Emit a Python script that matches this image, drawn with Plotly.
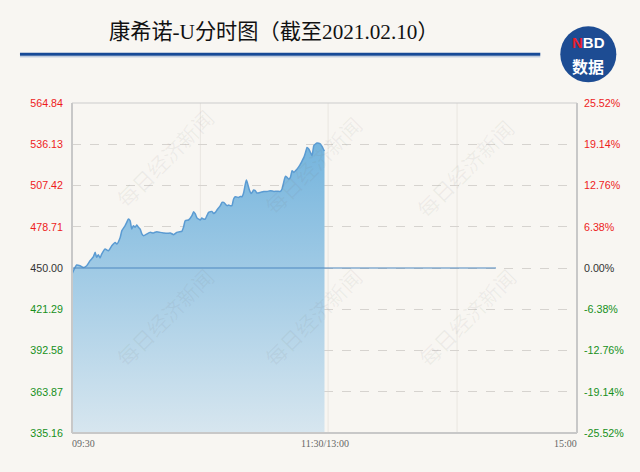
import plotly.graph_objects as go

# ---------------- data ----------------
MINUTES = [0, 2.2, 3.8, 5.4, 7.0, 8.6, 10.2, 11.0, 11.7, 12.5,
           13.3, 14.1, 15.7, 17.3, 18.9, 20.5, 21.3, 22.9, 23.7, 25.2,
           26.0, 26.8, 27.6, 28.4, 29.2, 30.0, 30.8, 31.6, 32.4, 33.2,
           34.0, 35.6, 37.1, 38.7, 40.3, 41.9, 43.5, 45.1, 46.7, 48.3,
           49.8, 51.4, 52.2, 53.0, 53.8, 55.4, 57.0, 57.8, 58.6, 59.4,
           61.0, 61.7, 62.5, 63.3, 64.1, 64.9, 66.5, 67.3, 68.1, 68.9,
           70.5, 71.3, 72.1, 73.7, 74.4, 75.2, 76.0, 76.8, 77.6, 79.2,
           80.0, 80.8, 81.6, 82.4, 82.9, 83.5, 84.3, 85.1, 85.6, 86.3,
           87.1, 87.9, 89.5, 91.1, 92.7, 94.3, 95.9, 97.5, 99.0, 99.8,
           100.6, 101.4, 102.2, 103.0, 103.8, 104.6, 105.4, 106.2, 107.0, 107.8,
           108.6, 109.4, 110.2, 111.0, 111.7, 112.5, 113.3, 114.1, 114.9, 115.7,
           116.5, 117.3, 118.1, 118.9, 119.7, 120]
PRICES = [445.8, 452.1, 451.6, 450.4, 451.6, 455.1, 457.9, 460.9, 457.4, 459.3,
          457.0, 459.7, 463.2, 462.0, 465.5, 467.8, 466.7, 471.3, 476.0, 479.4,
          481.7, 484.1, 482.9, 477.1, 479.4, 478.3, 479.9, 478.3, 477.1, 473.7,
          472.5, 473.7, 474.8, 474.4, 475.3, 474.8, 474.4, 474.1, 474.4, 473.2,
          474.8, 475.3, 475.5, 478.3, 482.9, 483.4, 486.4, 489.2, 487.6, 484.8,
          483.4, 484.8, 484.1, 484.1, 486.4, 488.7, 489.4, 488.0, 488.7, 490.4,
          493.4, 495.7, 495.7, 493.4, 493.8, 493.4, 493.4, 498.0, 499.6, 499.1,
          499.8, 499.6, 502.6, 508.5, 511.2, 508.5, 504.3, 501.9, 502.6, 504.3,
          503.8, 502.2, 502.6, 503.3, 503.3, 503.8, 503.3, 503.5, 503.3, 505.0,
          509.6, 513.8, 513.1, 511.9, 513.1, 517.7, 516.5, 517.7, 518.9, 520.5,
          522.4, 524.7, 527.0, 530.5, 533.9, 532.8, 530.5, 528.2, 535.1, 536.3,
          537.0, 536.8, 536.3, 534.4, 532.1, 531.5]

PREV_CLOSE = 450.00
REF_LINE_END = 201.5          # minute where the prev-close line stops
PRICE_TICKS = [564.84, 536.13, 507.42, 478.71, 450.00, 421.29, 392.58, 363.87, 335.16]
PCT_TICKS = [25.52, 19.14, 12.76, 6.38, 0.00, -6.38, -12.76, -19.14, -25.52]
X_TICK_MIN = [0, 120, 240]
X_TICK_LABELS = ["09:30", "11:30/13:00", "15:00"]
TITLE = "康希诺-U分时图（截至2021.02.10）"
WATERMARK = "每日经济新闻"

# ---------------- layout helpers ----------------
W, H = 640, 472
L, R, T, B = 72, 63.3, 102.7, 39.3
PW, PH = W - L - R, H - T - B
BG = "#f8f6f2"
RED, GREEN, DARK = "#ee1c1c", "#16901a", "#333333"


def px(x):
    return (x - L) / PW


def py(y):
    return (H - B - y) / PH


def col(v, ref):
    return RED if v > ref + 1e-9 else (GREEN if v < ref - 1e-9 else DARK)


ymin, ymax = min(PRICE_TICKS), max(PRICE_TICKS)
left_text = [f"<span style='color:{col(v, PREV_CLOSE)}'>{v:.2f}</span>" for v in PRICE_TICKS]
right_text = [f"<span style='color:{col(v, 0)}'>{v:.2f}%</span>" for v in PCT_TICKS]

fig = go.Figure()

# invisible baseline for the gradient fill
fig.add_trace(go.Scatter(x=[MINUTES[0], MINUTES[-1]], y=[ymin, ymin], mode="lines",
                         line=dict(width=0), hoverinfo="skip", showlegend=False))
fig.add_trace(go.Scatter(
    x=MINUTES, y=PRICES, mode="lines", fill="tonexty",
    line=dict(color="#5b9bd2", width=1.5, shape="spline", smoothing=0.5),
    fillgradient=dict(type="vertical", start=ymin, stop=max(PRICES),
                      colorscale=[[0, "#d7e6ef"], [1, "#74b4dd"]]),
    showlegend=False, hoverinfo="skip"))
# previous close line
fig.add_trace(go.Scatter(x=[0, REF_LINE_END], y=[PREV_CLOSE, PREV_CLOSE], mode="lines",
                         line=dict(color="#4d87bf", width=1), showlegend=False, hoverinfo="skip"))
# dummy trace for right axis
fig.add_trace(go.Scatter(x=[0], y=[0], yaxis="y2", mode="markers",
                         marker=dict(opacity=0), showlegend=False, hoverinfo="skip"))

shapes = []
# vertical faint gridlines
for m in [61, 121.7, 183]:
    shapes.append(dict(type="line", xref="x", yref="paper", x0=m, x1=m, y0=0, y1=1,
                       line=dict(color="#e9e6e1", width=1), layer="below"))
# frame
shapes += [
    dict(type="line", xref="paper", yref="paper", x0=0, x1=1, y0=1, y1=1,
         line=dict(color="#cccccc", width=1), layer="above"),
    dict(type="line", xref="paper", yref="paper", x0=0, x1=1, y0=0, y1=0,
         line=dict(color="#c8c8c8", width=2), layer="above"),
    dict(type="line", xref="paper", yref="paper", x0=0, x1=0, y0=0, y1=1,
         line=dict(color="#c8c8c8", width=2), layer="above"),
    dict(type="line", xref="paper", yref="paper", x0=1, x1=1, y0=0, y1=1,
         line=dict(color="#c8c8c8", width=2), layer="above"),
]
# title rule
shapes.append(dict(type="line", xref="paper", yref="paper", x0=px(20), x1=px(540),
                   y0=py(54), y1=py(54), line=dict(color="#174a97", width=3)))
shapes.append(dict(type="line", xref="paper", yref="paper", x0=px(20), x1=px(540),
                   y0=py(56.5), y1=py(56.5), line=dict(color="#a9bcd8", width=1)))
# logo circle
shapes.append(dict(type="circle", xref="paper", yref="paper", x0=px(560), x1=px(616),
                   y0=py(82), y1=py(26), fillcolor="#1d4c93", line=dict(width=0)))

annotations = [
    dict(text=TITLE, xref="paper", yref="paper", x=px(274), y=py(32), showarrow=False,
         font=dict(family="Liberation Serif, Noto Sans CJK SC", size=21.2, color="#111111"),
         xanchor="center", yanchor="middle"),
    dict(text="<b><span style='color:#e8202a'>N</span>BD</b>", xref="paper", yref="paper",
         x=px(588), y=py(42.5), showarrow=False,
         font=dict(family="Liberation Sans", size=15, color="white"),
         xanchor="center", yanchor="middle"),
    dict(text="<b>数据</b>", xref="paper", yref="paper", x=px(588), y=py(66), showarrow=False,
         font=dict(family="Noto Sans CJK SC", size=16, color="white"),
         xanchor="center", yanchor="middle"),
]
# x tick labels
anchors = ["left", "center", "right"]
for m, lab, a in zip(X_TICK_MIN, X_TICK_LABELS, anchors):
    annotations.append(dict(text=lab, xref="x", yref="paper", x=m, y=py(443),
                            showarrow=False, xanchor=a, yanchor="middle",
                            xshift=-2 if a == "left" else (0 if a == "center" else 2),
                            font=dict(family="Liberation Serif", size=10, color="#666666")))
# watermarks
for cx, cy in [(107, 100), (313, 107), (523, 110), (107, 317), (313, 317), (525, 317)]:
    annotations.append(dict(text=WATERMARK, xref="paper", yref="paper", x=px(cx), y=py(cy),
                            showarrow=False, textangle=-45,
                            font=dict(family="Noto Sans CJK SC", size=21,
                                      color="rgba(120,120,120,0.09)")))

fig.update_layout(
    width=W, height=H,
    margin=dict(l=L, r=R, t=T, b=B, pad=0),
    paper_bgcolor=BG, plot_bgcolor=BG,
    xaxis=dict(range=[0, 240], showgrid=False, zeroline=False, showticklabels=False,
               showline=False, fixedrange=True),
    yaxis=dict(range=[ymin, ymax], tickvals=PRICE_TICKS, ticktext=left_text,
               showgrid=True, gridcolor="#d6d3cf", griddash="dash", gridwidth=1,
               zeroline=False, showline=False, ticks="", ticklabelstandoff=8,
               tickfont=dict(family="Liberation Sans", size=10.7)),
    yaxis2=dict(range=[min(PCT_TICKS), max(PCT_TICKS)], tickvals=PCT_TICKS, ticktext=right_text,
                overlaying="y", side="right", showgrid=False, zeroline=False, showline=False,
                ticks="", ticklabelstandoff=6,
                tickfont=dict(family="Liberation Sans", size=10.7)),
    shapes=shapes, annotations=annotations,
)

fig.write_html("out.html", config={"displayModeBar": False},
               post_script="document.body.style.margin='0';document.body.style.background='%s';" % BG)
